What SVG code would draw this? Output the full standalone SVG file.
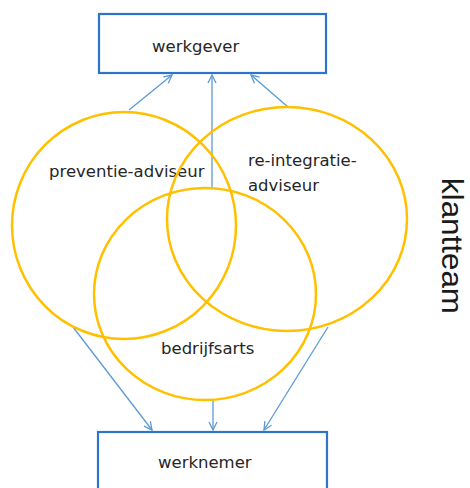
<svg xmlns="http://www.w3.org/2000/svg" width="470" height="488" viewBox="0 0 470 488">
<defs>
<style>
.box{fill:#fff;stroke:#2E75C9;stroke-width:2.2}
.circ{fill:none;stroke:#FFC000;stroke-width:2.5}
.conn{stroke:#5B9BD5;stroke-width:1.3;fill:none}
.lbl{font-family:"DejaVu Sans","Open Sans",sans-serif;font-size:16.5px;fill:#262626}
.side{font-family:"Liberation Sans",Arial,sans-serif;font-size:29px;fill:#1a1a1a}
</style>
<marker id="arr" viewBox="0 0 10 10" refX="9" refY="5" markerWidth="10" markerHeight="10" markerUnits="userSpaceOnUse" orient="auto">
<path d="M1,1 L9,5 L1,9" fill="none" stroke="#5B9BD5" stroke-width="1.3"/>
</marker>
</defs>
<rect width="470" height="488" fill="#fff"/>
<g id="werkgever">
<rect class="box" x="99" y="14" width="227" height="59"/>
<text class="lbl" x="152" y="52">werkgever</text>
</g>
<g id="werknemer">
<rect class="box" x="98" y="432" width="229" height="70"/>
<text class="lbl" x="158" y="468">werknemer</text>
</g>
<g id="connectors">
<line class="conn" x1="129" y1="110" x2="172" y2="75" marker-end="url(#arr)"/>
<line class="conn" x1="212" y1="188" x2="212" y2="75" marker-end="url(#arr)"/>
<line class="conn" x1="288" y1="107" x2="251" y2="75" marker-end="url(#arr)"/>
<line class="conn" x1="73" y1="327" x2="152" y2="430" marker-end="url(#arr)"/>
<line class="conn" x1="213" y1="400" x2="213" y2="430" marker-end="url(#arr)"/>
<line class="conn" x1="328" y1="327" x2="264" y2="430" marker-end="url(#arr)"/>
</g>
<g id="preventie-adviseur">
<ellipse class="circ" cx="124" cy="225.5" rx="112" ry="113.5"/>
<text class="lbl" x="49" y="177">preventie-adviseur</text>
</g>
<g id="re-integratie-adviseur">
<ellipse class="circ" cx="287" cy="219" rx="120" ry="112"/>
<text class="lbl" x="248" y="166">re-integratie-</text>
<text class="lbl" x="248" y="191">adviseur</text>
</g>
<g id="bedrijfsarts">
<ellipse class="circ" cx="205" cy="294" rx="111" ry="106"/>
<text class="lbl" x="161" y="354">bedrijfsarts</text>
</g>
<g id="klantteam">
<text class="side" transform="translate(442,178) rotate(90)" textLength="136" lengthAdjust="spacingAndGlyphs">klantteam</text>
</g>
</svg>
